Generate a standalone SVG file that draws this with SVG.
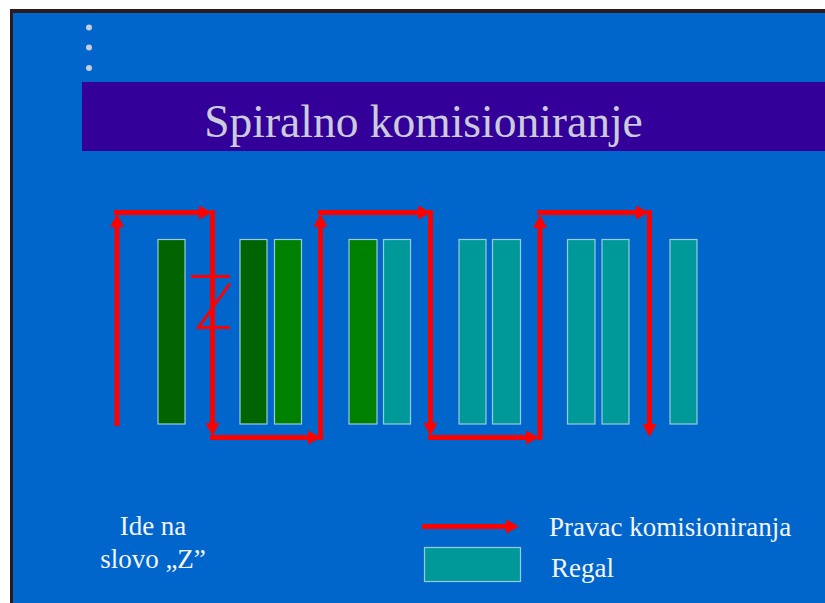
<svg xmlns="http://www.w3.org/2000/svg" width="825" height="603" viewBox="0 0 825 603">
<defs>
<style>
.rack{stroke:#9cc8dc;stroke-width:1.2}
.dk{fill:#006400}
.gr{fill:#008000}
.tl{fill:#009999}
.arr{stroke:#ff0000;stroke-width:5;fill:none;marker-end:url(#ah)}
.z{stroke:#ff0000;stroke-width:3;fill:none}
.lbl{font-family:"Liberation Serif","Times New Roman",serif;font-size:27px;fill:#f4f4fa}
</style>
<marker id="ah" markerUnits="userSpaceOnUse" viewBox="0 -7 13 14" refX="0" refY="0" markerWidth="13" markerHeight="14" orient="auto">
<path d="M0,-7 L13,0 L0,7 z" fill="#ff0000"/>
</marker>
</defs>
<rect x="0" y="0" width="825" height="603" fill="#ffffff"/>
<rect x="10" y="9" width="815" height="594" fill="#2b1b1f"/>
<rect x="13" y="13" width="812" height="590" fill="#0066cc"/>
<g id="bullets" fill="#c8ccd8">
<circle cx="89" cy="27.5" r="3"/>
<circle cx="89" cy="47.5" r="3"/>
<circle cx="89" cy="68" r="3"/>
</g>
<g id="title">
<rect x="82" y="82" width="743" height="69" fill="#330099"/>
<text x="423.5" y="137" text-anchor="middle" font-family="'Liberation Serif','Times New Roman',serif" font-size="45.5" fill="#cccbdc">Spiralno komisioniranje</text>
</g>
<g id="racks">
<rect id="r1" class="rack dk" x="158" y="239.5" width="27" height="184.5"/>
<rect id="r2" class="rack dk" x="240" y="239.5" width="27" height="184.5"/>
<rect id="r3" class="rack gr" x="274.5" y="239.5" width="27" height="184.5"/>
<rect id="r4" class="rack gr" x="349" y="239.5" width="28" height="184.5"/>
<rect id="r5" class="rack tl" x="383.5" y="239.5" width="27" height="184.5"/>
<rect id="r6" class="rack tl" x="459" y="239.5" width="27" height="184.5"/>
<rect id="r7" class="rack tl" x="492.5" y="239.5" width="28" height="184.5"/>
<rect id="r8" class="rack tl" x="567.5" y="239.5" width="27.5" height="184.5"/>
<rect id="r9" class="rack tl" x="602" y="239.5" width="27" height="184.5"/>
<rect id="r10" class="rack tl" x="670" y="239.5" width="27" height="184.5"/>
</g>
<g id="connectors">
<line class="arr" x1="117" y1="426" x2="117" y2="227"/>
<line class="arr" x1="114" y1="212.5" x2="199" y2="212.5"/>
<line class="arr" x1="212.5" y1="210" x2="212.5" y2="423"/>
<line class="arr" x1="210" y1="437.5" x2="308" y2="437.5"/>
<line class="arr" x1="320.5" y1="440" x2="320.5" y2="227"/>
<line class="arr" x1="318" y1="212.5" x2="418" y2="212.5"/>
<line class="arr" x1="430.5" y1="210" x2="430.5" y2="423"/>
<line class="arr" x1="428" y1="437.5" x2="526" y2="437.5"/>
<line class="arr" x1="540" y1="440" x2="540" y2="228"/>
<line class="arr" x1="537.5" y1="212.5" x2="636" y2="212.5"/>
<line class="arr" x1="649.5" y1="210" x2="649.5" y2="424"/>
</g>
<g id="zmark">
<polyline class="z" points="191,276.5 230,276.5"/>
<polyline class="z" points="230,283.5 198.5,327.5 230,327.5"/>
</g>
<g id="note">
<text class="lbl" x="153" y="535" text-anchor="middle">Ide na</text>
<text class="lbl" x="153" y="568" text-anchor="middle">slovo „Z”</text>
</g>
<g id="legend">
<line class="arr" x1="422" y1="526.5" x2="506" y2="526.5"/>
<text class="lbl" x="549" y="536">Pravac komisioniranja</text>
<rect class="rack tl" x="424.5" y="547.5" width="96" height="34"/>
<text class="lbl" x="551" y="577">Regal</text>
</g>
</svg>
